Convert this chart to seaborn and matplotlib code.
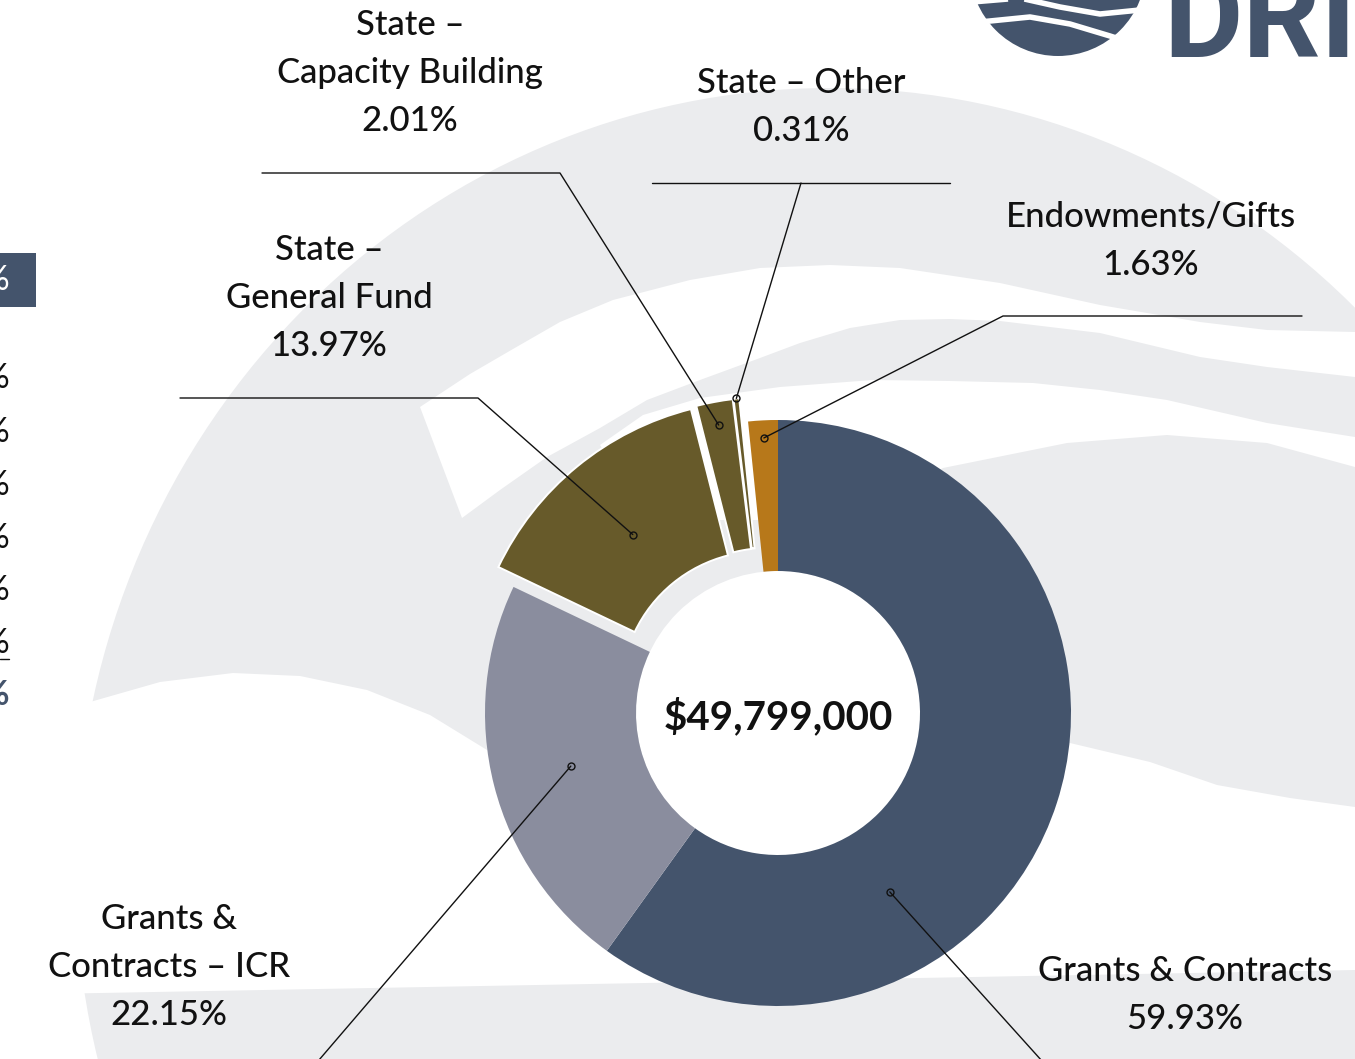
"""
Revenue sources donut chart (total $49,799,000), drawn with seaborn styling
and matplotlib's pie on a pixel-sized canvas.
"""

# --- Imports
import numpy as np
import matplotlib
matplotlib.use("Agg")
import matplotlib.pyplot as plt
from matplotlib.patches import Circle, Ellipse, Polygon, Rectangle
import seaborn as sns

# --- Data
categories = ["Grants & Contracts", "Grants & Contracts – ICR", "State – General Fund",
              "State – Capacity Building", "State – Other", "Endowments/Gifts"]
label_names = ["Grants & Contracts", "Grants &\nContracts – ICR", "State –\nGeneral Fund",
               "State –\nCapacity Building", "State – Other", "Endowments/Gifts"]
shares = [59.93, 22.15, 13.97, 2.01, 0.31, 1.63]
state_group = [False, False, True, True, True, False]
total_label = "$49,799,000"

# --- Layout (pixels, y measured from top)
W, H = 1355, 1059
CX, CY = 778, 713
R, HOLE = 293, 142
PULL = 25

colors = ["#44546C", "#8A8D9E", "#675A2A", "#675A2A", "#675A2A", "#B7781A"]
GREY = "#EBECEE"
INK = "#111111"

dot_angle = [-58, None, None, None, None, None]
dot_radius = [0.72, 0.73, 0.70, 0.92, 1.0, 0.94]
elbows = [(1051, 1071), (313, 1067), (478, 398), (560, 173), (801, 183), (1003, 316)]
hlines = [(1051, 1349), (313, 15), (478, 180), (560, 262), (652, 950), (1003, 1302)]
label_xy = [(1185, 1016), (169, 1012), (329, 343), (410, 118), (801, 128), (1151, 262)]
LINE_STEP = 48
FS = 25
WEIGHT = "medium"


def P(x, y):
    """pixel (y down) -> data (y up)"""
    return x, H - y


def poly(points, **kw):
    return Polygon([P(x, y) for x, y in points], closed=True, **kw)


def draw_background(ax):
    ax.add_patch(Ellipse(P(830, 869), 2 * 755, 2 * 781, color=GREY, lw=0, zorder=0))

    band_a = [(420, 407), (470, 374), (513, 349), (560, 322), (613, 300), (690, 280),
              (760, 268), (830, 265), (900, 268), (1000, 283), (1100, 305), (1200, 322),
              (1267, 330), (1355, 332), (1400, 333), (1400, 380), (1355, 377),
              (1267, 367), (1200, 357), (1100, 333), (1000, 321), (950, 319), (900, 320),
              (850, 328), (800, 343), (760, 358), (700, 380), (647, 400), (600, 428),
              (547, 457), (500, 490), (462, 518)]
    ax.add_patch(poly(band_a, color="white", lw=0, zorder=0.5))

    band_b = [(600, 445), (643, 415), (700, 398), (780, 387), (873, 380), (950, 381),
              (1033, 383), (1100, 390), (1167, 400), (1267, 423), (1355, 437),
              (1400, 444), (1400, 475), (1355, 467), (1267, 443), (1167, 435),
              (1067, 443), (943, 468), (850, 520), (650, 520)]
    ax.add_patch(poly(band_b, color="white", lw=0, zorder=0.5))

    low = [(-10, 730), (90, 702), (160, 682), (233, 673), (300, 676), (367, 690),
           (430, 715), (487, 750), (560, 780), (700, 790), (850, 770), (950, 745),
           (1010, 738), (1070, 743), (1150, 762), (1217, 785), (1290, 798),
           (1355, 807), (1400, 812), (1400, 968), (1355, 970), (100, 993), (-10, 995)]
    ax.add_patch(poly(low, color="white", lw=0, zorder=0.5))

    # logo, top right
    ax.add_patch(Circle(P(1058, -32), 88, color="#44546C", lw=0, zorder=0.6))
    for pts in ([(972, 2), (1020, -2), (1060, 7), (1100, 14), (1140, 10)],
                [(980, 22), (1030, 17), (1070, 24), (1110, 36), (1135, 44)]):
        xs, ys = zip(*[P(x, y) for x, y in pts])
        ax.plot(xs, ys, color="white", lw=4, solid_capstyle="butt", zorder=0.7)
    ax.text(*P(1163, 57), "DRI", fontsize=88, fontweight="bold", color="#44546C",
            family=["Roboto", "DejaVu Sans"], ha="left", va="baseline", zorder=0.7)

    # table fragment at the left edge
    ax.add_patch(Rectangle(P(0, 307), 36, 54, color="#44546C", lw=0, zorder=0.6))
    ax.text(*P(9, 290), "%", fontsize=FS, color="white", ha="right", va="baseline", zorder=0.7)
    for yy in [378, 432, 485, 538, 590, 643]:
        ax.text(*P(9, yy + 10), "%", fontsize=FS, color=INK, ha="right", va="baseline", zorder=0.7)
    ax.plot(*zip(P(0, 659), P(9, 659)), color=INK, lw=1, zorder=0.7)
    ax.text(*P(9, 705), "%", fontsize=FS, fontweight="bold", color="#44546C",
            ha="right", va="baseline", zorder=0.7)


def main():
    sns.set_theme(style="white")
    plt.rcParams["font.family"] = ["Lato", "DejaVu Sans"]

    fig = plt.figure(figsize=(W / 100, H / 100), dpi=100)
    fig.patch.set_facecolor("white")
    ax = fig.add_axes([0, 0, 1, 1])

    wedges, _ = ax.pie(shares, colors=colors, startangle=90, counterclock=False,
                       radius=R, center=P(CX, CY),
                       wedgeprops=dict(width=R - HOLE, linewidth=0))

    # pull the State slices out; each one leans toward the group's middle angle
    grp = [w for w, s in zip(wedges, state_group) if s]
    g_mid = (min(w.theta1 for w in grp) + max(w.theta2 for w in grp)) / 2
    c0 = np.array(P(CX, CY), dtype=float)
    for w in grp:
        a = np.deg2rad(((w.theta1 + w.theta2) / 2 + g_mid) / 2)
        w.set_center(tuple(c0 + PULL * np.array([np.cos(a), np.sin(a)])))
        w.set_edgecolor("white")
        w.set_linewidth(1.4)
    for w in wedges:
        w.set_zorder(2)

    draw_background(ax)
    ax.add_patch(Circle(P(CX, CY), HOLE, color="white", lw=0, zorder=1.5))

    # leader lines and labels
    for i, w in enumerate(wedges):
        ang = dot_angle[i] if dot_angle[i] is not None else (w.theta1 + w.theta2) / 2
        a = np.deg2rad(ang)
        cx, cy = w.center
        dot = (cx + dot_radius[i] * R * np.cos(a), cy + dot_radius[i] * R * np.sin(a))
        ex, ey = P(*elbows[i])
        hx0, hx1 = hlines[i]
        if hx0 == ex:
            ax.plot([dot[0], ex, hx1], [dot[1], ey, ey], color=INK, lw=1.0, zorder=4)
        else:
            ax.plot([dot[0], ex], [dot[1], ey], color=INK, lw=1.0, zorder=4)
            ax.plot([hx0, hx1], [ey, ey], color=INK, lw=1.0, zorder=4)
        ax.plot(*dot, "o", ms=5, mfc="none", mec=INK, mew=1.0, zorder=5)

        lines = label_names[i].split("\n") + [f"{shares[i]:.2f}%"]
        lx, ly = label_xy[i]
        n = len(lines)
        for j, t in enumerate(lines):
            yc = ly - (n - 1 - j) * LINE_STEP
            ax.text(*P(lx, yc + 13), t, fontsize=FS, fontweight=WEIGHT, color=INK,
                    ha="center", va="baseline", zorder=6)

    ax.text(*P(CX, CY + 16), total_label, fontsize=29, fontweight="bold", color=INK,
            ha="center", va="baseline", zorder=6)

    ax.set_xlim(0, W)
    ax.set_ylim(0, H)
    ax.set_aspect("equal")
    ax.axis("off")

    fig.savefig("out.png", dpi=100, facecolor="white")


if __name__ == "__main__":
    main()
